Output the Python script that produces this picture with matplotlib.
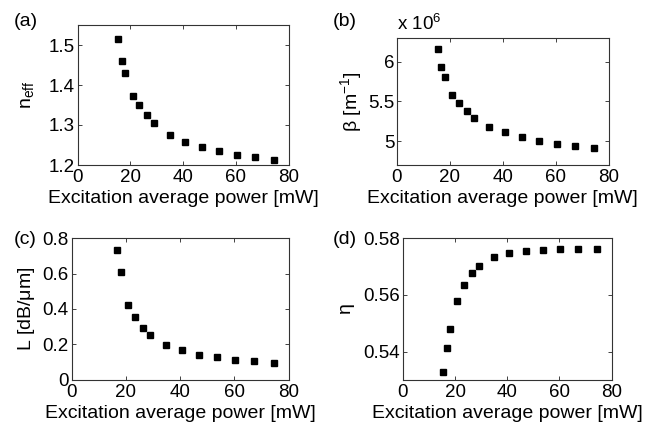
import matplotlib
matplotlib.use("Agg")
import matplotlib.pyplot as plt
import numpy as np

plt.rcParams['font.family'] = ['Liberation Sans', 'DejaVu Sans']
plt.rcParams['mathtext.fontset'] = 'custom'
plt.rcParams['mathtext.rm'] = 'Liberation Sans'
plt.rcParams['mathtext.it'] = 'Liberation Sans'

# Excitation average power [mW]
power = [15.4, 16.7, 18.1, 20.9, 23.5, 26.3, 29.0, 34.9, 40.8, 47.1, 53.7, 60.4, 67.3, 74.6]
# (a) effective index
n_eff = [1.514, 1.461, 1.430, 1.373, 1.350, 1.324, 1.305, 1.276, 1.258, 1.245, 1.234, 1.225, 1.219, 1.213]
# (b) propagation constant [m^-1]
beta = [6.154e6, 5.934e6, 5.81e6, 5.583e6, 5.475e6, 5.38e6, 5.295e6, 5.178e6, 5.112e6,
        5.053e6, 5.0e6, 4.97e6, 4.94e6, 4.915e6]
# (c) loss [dB/um] (no value at the first power)
power_c = power[1:]
loss = [0.732, 0.608, 0.424, 0.355, 0.291, 0.252, 0.195, 0.169, 0.139, 0.126, 0.113, 0.103, 0.096]
# (d) eta
eta = [0.5328, 0.5414, 0.5479, 0.5577, 0.5635, 0.5676, 0.5703, 0.5735, 0.5749, 0.5756,
       0.5760, 0.5762, 0.5762, 0.5762]

W, H = 646, 425
fig = plt.figure(figsize=(W / 100, H / 100), dpi=100)

def box(l, r, t, b):
    return [l / W, 1 - b / H, (r - l) / W, (b - t) / H]

FS = 14
TFS = 13.5
xlabel = 'Excitation average power [mW]'

def style(ax, xlim, ylim, yticks, yticklabels):
    ax.set_xlim(*xlim)
    ax.set_ylim(*ylim)
    ax.set_xticks([0, 20, 40, 60, 80])
    ax.set_yticks(yticks)
    ax.set_yticklabels(yticklabels)
    ax.tick_params(direction='in', top=True, right=True, length=3, width=0.6,
                   labelsize=TFS, colors='#222222', labelcolor='black')
    ax.tick_params(axis='x', pad=3)
    ax.tick_params(axis='y', pad=2)
    for s in ax.spines.values():
        s.set_linewidth(0.8)
        s.set_color('#333333')
    ax.set_xlabel(xlabel, fontsize=FS, labelpad=3)

mk = dict(marker='s', ms=4.2, color='black', linestyle='none')

# (a)
ax = fig.add_axes(box(77.5, 288.5, 25, 165))
ax.plot(power, n_eff, **mk)
style(ax, (0, 80), (1.2, 1.55), [1.2, 1.3, 1.4, 1.5], ['1.2', '1.3', '1.4', '1.5'])
ax.set_ylabel(r'n$_{\mathregular{eff}}$', fontsize=FS, labelpad=9)
fig.text(14 / W, 1 - 22 / H, '(a)', fontsize=FS, va='center', ha='left')

# (b)
ax = fig.add_axes(box(397, 608.5, 37.7, 165))
ax.plot(power, np.array(beta) / 1e6, **mk)
style(ax, (0, 80), (4.7, 6.3), [5, 5.5, 6], ['5', '5.5', '6'])
ax.set_ylabel(r'$\beta$ [m$^{\mathregular{-1}}$]', fontsize=FS, labelpad=3)
ax.text(0.0, 1.03, r'x 10$^{\mathregular{6}}$', transform=ax.transAxes, fontsize=TFS,
        ha='left', va='bottom')
fig.text(333 / W, 1 - 22 / H, '(b)', fontsize=FS, va='center', ha='left')

# (c)
ax = fig.add_axes(box(71.5, 288.5, 238.3, 379.5))
ax.plot(power_c, loss, **mk)
style(ax, (0, 80), (0, 0.8), [0, 0.2, 0.4, 0.6, 0.8], ['0', '0.2', '0.4', '0.6', '0.8'])
ax.set_ylabel(r'L [dB/$\mu$m]', fontsize=FS, labelpad=4)
fig.text(14 / W, 1 - 240 / H, '(c)', fontsize=FS, va='center', ha='left')

# (d)
ax = fig.add_axes(box(403, 611.5, 238.3, 380))
ax.plot(power, eta, **mk)
style(ax, (0, 80), (0.53, 0.58), [0.54, 0.56, 0.58], ['0.54', '0.56', '0.58'])
ax.set_ylabel(r'$\eta$', fontsize=FS, labelpad=5)
fig.text(333 / W, 1 - 240 / H, '(d)', fontsize=FS, va='center', ha='left')

fig.savefig('out.png', dpi=100)
